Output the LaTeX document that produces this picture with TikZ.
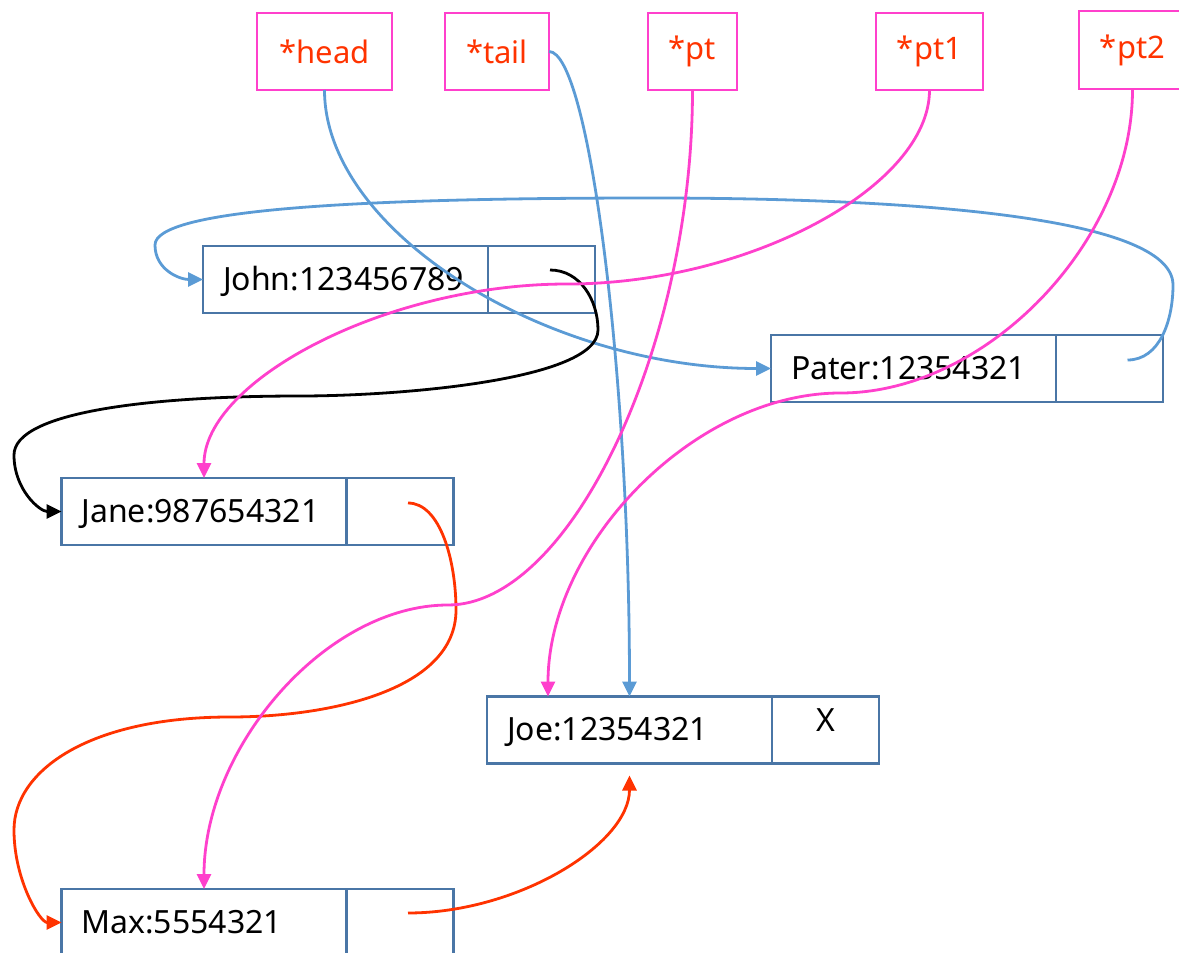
\documentclass[tikz,border=0pt]{standalone}
\usepackage{fontspec}
\setmainfont{Noto Sans}
\usetikzlibrary{arrows.meta,positioning,calc}
\definecolor{boxblue}{RGB}{74,118,166}
\definecolor{ptrpink}{RGB}{255,64,204}
\definecolor{ptrred}{RGB}{255,51,0}
\definecolor{linkblue}{RGB}{91,155,213}

\tikzset{
  databox/.style={draw=boxblue, line width=2.8pt, outer sep=0pt, inner xsep=20pt,
    text width=245pt, align=left, minimum height=67pt, text depth=2pt,
    font=\fontsize{32}{38}\selectfont},
  nextbox/.style={draw=boxblue, line width=2.8pt, outer sep=0pt, minimum width=107pt,
    minimum height=67pt, right=0pt of #1},
  ptrbox/.style={draw=ptrpink, line width=2pt, outer sep=0pt, minimum height=77pt,
    text=ptrred, font=\fontsize{31}{36}\selectfont},
  link/.style={line width=2.8pt, -{Triangle[length=15pt,width=14pt]}},
}

\begin{document}
\begin{tikzpicture}[x=1pt,y=-1pt]
    \useasboundingbox (0,0) rectangle (1179,953);

    % Pointer variables
    \node[ptrbox, minimum width=135pt] (head) at (324.5,51.5) {*head};
    \node[ptrbox, minimum width=104pt] (tail) at (497,51.5) {*tail};
    \node[ptrbox, minimum width=89pt] (pt) at (692.5,51.5) {*pt};
    \node[ptrbox, minimum width=107pt] (pt1) at (929.5,51.5) {*pt1};
    \node[ptrbox, minimum width=107pt, minimum height=78pt] (pt2) at (1132.5,50) {*pt2};

    % List records
    \node[databox] (john) at (345.5,279.5) {John:123456789};
    \node[nextbox=john] (johnptr) {};
    \node[databox] (pater) at (913.5,368.5) {Pater:12354321};
    \node[nextbox=pater] (paterptr) {};
    \node[databox] (jane) at (204,511.5) {Jane:987654321};
    \node[nextbox=jane] (janeptr) {};
    \node[databox] (joe) at (629.5,730) {Joe:12354321};
    \node[nextbox=joe] (joeptr) {};
    \node[font=\fontsize{32}{38}\selectfont] (joenull) at ([yshift=10pt]joeptr.center) {X};
    \node[databox] (max) at (204,922.5) {Max:5554321};
    \node[nextbox=max] (maxptr) {};

    % Start points of the next links
    \coordinate (johnnext) at ([xshift=8.5pt,yshift=9.5pt]johnptr.center);
    \coordinate (paternext) at ([xshift=18pt,yshift=8.5pt]paterptr.center);
    \coordinate (janenext) at ([xshift=8pt,yshift=8.5pt]janeptr.center);
    \coordinate (maxnext) at ([xshift=8pt,yshift=9.5pt]maxptr.center);

    % head and tail
    \draw[link, linkblue] (head.south) .. controls (324.5,232) and (547,368.5) .. (pater.west);
    \draw[link, linkblue] (tail.east) .. controls (589,51.5) and (629.5,374) .. (joe.north);

    % next links
    \draw[link, linkblue] (paternext) .. controls (1160,360) and (1173,320) .. (1173,285)
        .. controls (1173,215) and (900,198) .. (650,198)
        .. controls (350,198) and (155,210) .. (155,245)
        .. controls (155,270) and (180,279.5) .. (john.west);
    \draw[link, black] (johnnext) .. controls (580,270) and (598,300) .. (598,330)
        .. controls (598,380) and (400,396) .. (300,396)
        .. controls (150,396) and (14,412) .. (14,455)
        .. controls (14,490) and (40,511.5) .. (jane.west);
    \draw[link, ptrred] (janenext) .. controls (440,503) and (456,560) .. (456,610)
        .. controls (456,690) and (330,717) .. (230,717)
        .. controls (90,717) and (14,770) .. (14,830)
        .. controls (14,880) and (40,922.5) .. (max.west);
    \draw[link, ptrred, shorten >=12pt] (maxnext) .. controls (518,913) and (629.5,844) .. (joe.south);

    % pt, pt1, pt2
    \draw[link, ptrpink] (pt1.south) .. controls (929.5,187) and (748,284) .. (567,284)
        .. controls (385.6,284) and (204,381) .. (jane.north);
    \draw[link, ptrpink] (pt.south) .. controls (692.5,347.5) and (570,605) .. (448,605)
        .. controls (326,605) and (204,747) .. (max.north);
    \draw[link, ptrpink] (pt2.south) .. controls (1133,241) and (987,393) .. (840.5,393)
        .. controls (694,393) and (548,545) .. ([xshift=-81.5pt]joe.north);
\end{tikzpicture}
\end{document}
